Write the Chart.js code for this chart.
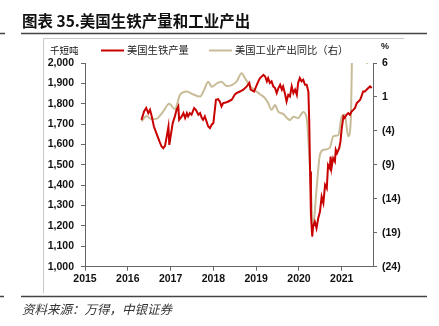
<!DOCTYPE html>
<html>
<head>
<meta charset="utf-8">
<script src="https://cdn.jsdelivr.net/npm/chart.js@4.4.1/dist/chart.umd.min.js"></script>
<style>
  html, body { margin: 0; padding: 0; background: #fff; }
  canvas { display: block; }
</style>
</head>
<body>
<canvas id="c" width="439" height="326"></canvas>
<script>
// Year ticks on the horizontal axis
const years = [2015, 2016, 2017, 2018, 2019, 2020, 2021];

// US pig iron output, thousand short tons (left axis)
const ironDates = [
  2016.32, 2016.38, 2016.43, 2016.48, 2016.52, 2016.56, 2016.61, 2016.68, 2016.74, 2016.79,
  2016.83, 2016.87, 2016.91, 2016.95, 2016.97, 2017.00, 2017.05, 2017.10, 2017.14, 2017.18,
  2017.20, 2017.26, 2017.30, 2017.34, 2017.38, 2017.41, 2017.45, 2017.49, 2017.55, 2017.59,
  2017.65, 2017.69, 2017.73, 2017.76, 2017.80, 2017.84, 2017.88, 2017.92, 2017.96, 2018.00,
  2018.06, 2018.11, 2018.15, 2018.19, 2018.23, 2018.29, 2018.35, 2018.43, 2018.50, 2018.54,
  2018.62, 2018.70, 2018.78, 2018.84, 2018.87, 2018.95, 2019.00, 2019.05, 2019.09, 2019.17,
  2019.21, 2019.25, 2019.28, 2019.32, 2019.36, 2019.40, 2019.44, 2019.48, 2019.52, 2019.56,
  2019.60, 2019.63, 2019.67, 2019.71, 2019.75, 2019.79, 2019.83, 2019.87, 2019.91, 2019.95,
  2019.98, 2020.02, 2020.06, 2020.10, 2020.14, 2020.18, 2020.22, 2020.24, 2020.26, 2020.28,
  2020.31, 2020.33, 2020.37, 2020.41, 2020.45, 2020.49, 2020.53, 2020.57, 2020.61, 2020.65,
  2020.68, 2020.72, 2020.74, 2020.76, 2020.80, 2020.84, 2020.86, 2020.89, 2020.94, 2020.97,
  2021.00, 2021.04, 2021.07, 2021.11, 2021.15, 2021.19, 2021.23, 2021.27, 2021.31, 2021.35,
  2021.39, 2021.43, 2021.46, 2021.50, 2021.54, 2021.58, 2021.62, 2021.66, 2021.70
];
const ironOutput = [
  1721, 1762, 1779, 1754, 1770, 1738, 1688, 1648, 1615, 1590,
  1582, 1593, 1639, 1688, 1598, 1639, 1705, 1738, 1770, 1787,
  1721, 1738, 1754, 1730, 1754, 1738, 1754, 1746, 1779, 1770,
  1746, 1754, 1730, 1721, 1738, 1713, 1688, 1680, 1697, 1705,
  1820, 1823, 1811, 1787, 1803, 1806, 1811, 1820, 1845, 1852,
  1860, 1869, 1885, 1902, 1869, 1860, 1885, 1910, 1926, 1942,
  1934, 1910, 1926, 1902, 1910, 1885, 1877, 1852, 1877, 1893,
  1869, 1885, 1852, 1811, 1844, 1836, 1885, 1852, 1869, 1844,
  1902, 1926, 1910, 1918, 1893, 1893, 1860, 1713, 1467, 1254,
  1148, 1197, 1221, 1189, 1238, 1270, 1344, 1312, 1402, 1385,
  1500, 1484, 1541, 1484, 1533, 1516, 1574, 1558, 1582, 1615,
  1680, 1738, 1730, 1746, 1754, 1746, 1762, 1770, 1779, 1803,
  1811, 1820, 1836, 1860, 1860, 1869, 1877, 1885, 1877
];

// US industrial production, year-on-year % (right axis)
const ipDates = [
  2016.32, 2016.44, 2016.56, 2016.68, 2016.82, 2016.97, 2017.10, 2017.22, 2017.38, 2017.52,
  2017.69, 2017.78, 2017.88, 2017.96, 2018.08, 2018.19, 2018.31, 2018.43, 2018.54, 2018.66,
  2018.74, 2018.86, 2018.97, 2019.09, 2019.21, 2019.28, 2019.36, 2019.44, 2019.52, 2019.63,
  2019.79, 2019.87, 2019.98, 2020.10, 2020.18, 2020.26, 2020.33, 2020.40, 2020.49, 2020.57,
  2020.72, 2020.80, 2020.92, 2021.00, 2021.07, 2021.15, 2021.21, 2021.27, 2021.36, 2021.45,
  2021.53, 2021.61
];
const ipYoY = [
  -2.6, -1.8, -2.3, -2.2, -1.2, 0.0, -0.8, 1.3, 1.8, 1.4,
  1.05, 2.0, 3.25, 2.5, 3.0, 3.25, 2.6, 2.75, 3.25, 4.5,
  3.75, 2.6, 2.0, 1.4, 0.8, 0.1, -0.9, -0.2, -1.2, -1.5,
  -2.4, -1.9, -2.1, -1.2, -2.1, -10.0, -18.1, -13.4, -7.5, -6.8,
  -6.5, -4.8, -4.6, -1.9, -1.6, -4.8, -2.6, 16.5, 16.0, 9.8,
  6.6, 5.9
];

const RED = '#C80000';
const TAN = '#C8BC98';
const AXIS = '#666666';
const CJK = '"Noto Sans CJK SC", sans-serif';
const LATIN = '"Liberation Sans", Arial, sans-serif';

const toPoints = (xs, ys) => xs.map((x, i) => ({ x: x, y: ys[i] }));
const fmtThousands = v => v.toLocaleString('en-US');
const fmtPct = v => v < 0 ? '(' + Math.abs(v) + ')' : String(v);

// Page furniture: heading, rules, frame, units, legend and source note
const decor = {
  id: 'decor',
  afterDraw(chart) {
    const ctx = chart.ctx;
    ctx.save();
    ctx.textBaseline = 'middle';

    ctx.fillStyle = '#111';
    ctx.font = 'bold 15.5px ' + CJK;
    ctx.fillText('图表 35.美国生铁产量和工业产出', 22, 21);

    ctx.strokeStyle = '#444';
    ctx.lineWidth = 1.5;
    ctx.beginPath();
    ctx.moveTo(21, 33.5); ctx.lineTo(427, 33.5);
    ctx.moveTo(21, 296.5); ctx.lineTo(427, 296.5);
    ctx.moveTo(0, 33.5); ctx.lineTo(5, 33.5);
    ctx.moveTo(0, 296.5); ctx.lineTo(4, 296.5);
    ctx.stroke();

    ctx.strokeStyle = '#c8c8c8';
    ctx.lineWidth = 1;
    ctx.beginPath();
    ctx.moveTo(43.5, 38.5); ctx.lineTo(404, 38.5);
    ctx.moveTo(43.5, 38.5); ctx.lineTo(43.5, 293);
    ctx.stroke();

    ctx.fillStyle = '#111';
    ctx.font = '9.5px ' + CJK;
    ctx.fillText('千短吨', 50, 50);
    ctx.font = 'bold 9px ' + LATIN;
    ctx.fillText('%', 381, 47);

    ctx.lineWidth = 2;
    ctx.strokeStyle = RED;
    ctx.beginPath(); ctx.moveTo(101, 50.5); ctx.lineTo(124, 50.5); ctx.stroke();
    ctx.strokeStyle = TAN;
    ctx.beginPath(); ctx.moveTo(209, 50.5); ctx.lineTo(232, 50.5); ctx.stroke();
    ctx.fillStyle = '#222';
    ctx.font = '10.3px ' + CJK;
    ctx.fillText('美国生铁产量', 127, 50.5);
    ctx.fillText('美国工业产出同比（右）', 235, 50.5);

    ctx.fillStyle = '#333';
    ctx.font = 'italic 12.5px ' + CJK;
    ctx.fillText('资料来源：万得，中银证券', 22, 309);
    ctx.restore();
  }
};

new Chart(document.getElementById('c'), {
  type: 'line',
  data: {
    datasets: [
      {
        label: '美国生铁产量',
        data: toPoints(ironDates, ironOutput),
        yAxisID: 'yL',
        borderColor: RED,
        borderWidth: 2,
        pointRadius: 0,
        tension: 0,
        order: 0
      },
      {
        label: '美国工业产出同比（右）',
        data: toPoints(ipDates, ipYoY),
        yAxisID: 'yR',
        borderColor: TAN,
        borderWidth: 2,
        pointRadius: 0,
        cubicInterpolationMode: 'monotone',
        order: 1
      }
    ]
  },
  options: {
    responsive: false,
    devicePixelRatio: 1,
    animation: false,
    layout: { padding: { top: 63, left: 0, right: 0, bottom: 0 } },
    plugins: { legend: { display: false }, tooltip: { enabled: false } },
    scales: {
      x: {
        type: 'linear',
        min: 2015,
        max: 2021.73,
        afterBuildTicks: s => { s.ticks = years.map(v => ({ value: v })); },
        afterFit: s => { s.height = 59.3; },
        border: { display: true, color: AXIS, width: 1 },
        grid: { drawOnChartArea: false, drawTicks: true, tickLength: 4, color: AXIS },
        ticks: {
          padding: 2,
          maxRotation: 0,
          color: '#111',
          font: { family: LATIN, size: 10.5, weight: 'bold' },
          callback: v => String(v)
        }
      },
      yL: {
        position: 'left',
        min: 1000,
        max: 2000,
        afterFit: s => { s.width = 85; },
        border: { display: true, color: AXIS, width: 1 },
        grid: { drawOnChartArea: false, drawTicks: true, tickLength: 4, color: AXIS },
        ticks: {
          stepSize: 100,
          padding: 7,
          color: '#111',
          font: { family: LATIN, size: 10.5, weight: 'bold' },
          callback: v => fmtThousands(v)
        }
      },
      yR: {
        position: 'right',
        min: -24,
        max: 6,
        afterFit: s => { s.width = 66; },
        border: { display: true, color: AXIS, width: 1 },
        grid: { drawOnChartArea: false, drawTicks: true, tickLength: 4, color: AXIS },
        ticks: {
          stepSize: 5,
          padding: 5,
          color: '#111',
          font: { family: LATIN, size: 10.5, weight: 'bold' },
          callback: v => fmtPct(v)
        }
      }
    }
  },
  plugins: [decor]
});
</script>
</body>
</html>
